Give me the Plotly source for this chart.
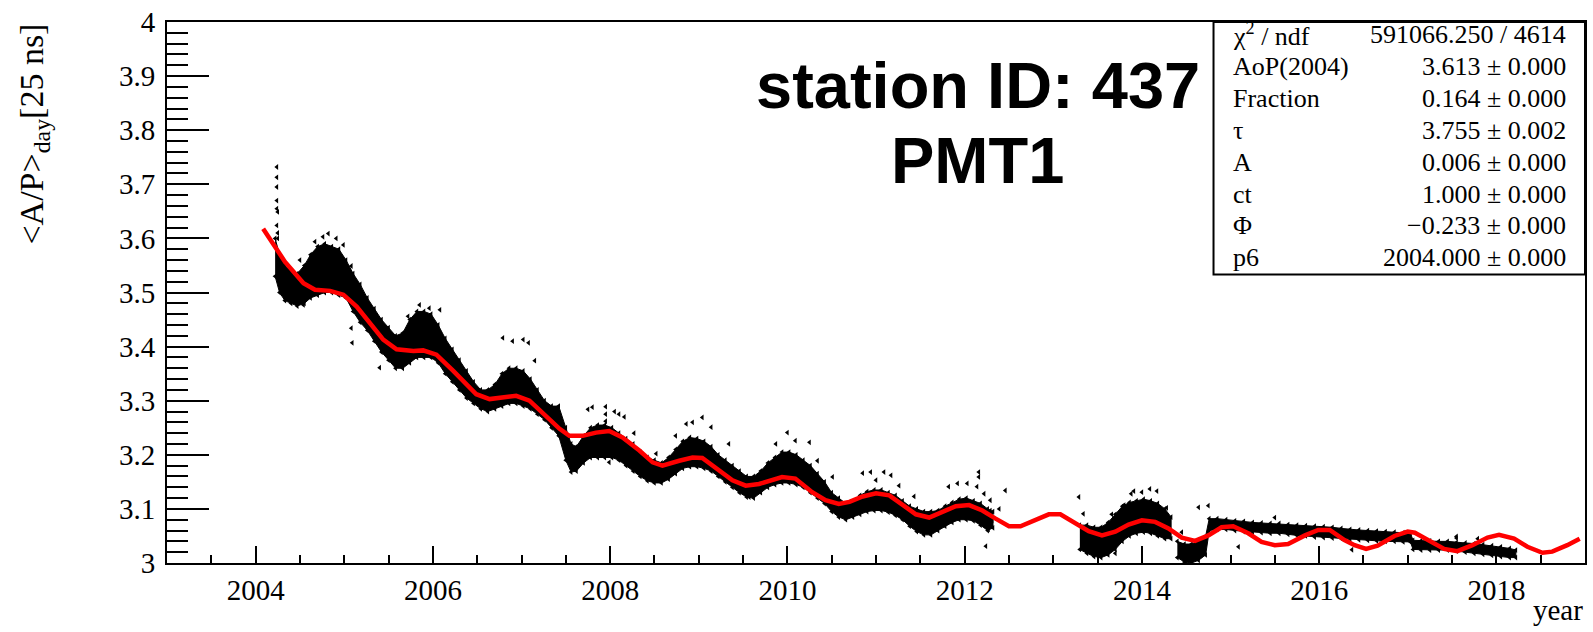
import plotly.graph_objects as go

# ---------------------------------------------------------------------------
# Daily <A/P> of station 437, PMT1: spread of the daily values (lower / upper
# edge of the point cloud) for the three stretches of data taking.
# ---------------------------------------------------------------------------
band1_t = [2004.22, 2004.27, 2004.33, 2004.40, 2004.47, 2004.55, 2004.62, 2004.70, 2004.78, 2004.86,
           2004.94, 2005.02, 2005.10, 2005.18, 2005.26, 2005.34, 2005.42, 2005.50, 2005.58, 2005.66,
           2005.74, 2005.82, 2005.90, 2005.98, 2006.06, 2006.14, 2006.22, 2006.30, 2006.38, 2006.46,
           2006.54, 2006.62, 2006.70, 2006.78, 2006.86, 2006.94, 2007.02, 2007.10, 2007.18, 2007.26,
           2007.34, 2007.42, 2007.50, 2007.56, 2007.62, 2007.70, 2007.78, 2007.86, 2007.94, 2008.02,
           2008.10, 2008.18, 2008.26, 2008.34, 2008.42, 2008.50, 2008.58, 2008.66, 2008.74, 2008.82,
           2008.90, 2008.98, 2009.06, 2009.14, 2009.22, 2009.30, 2009.38, 2009.46, 2009.54, 2009.62,
           2009.70, 2009.78, 2009.86, 2009.94, 2010.02, 2010.10, 2010.18, 2010.26, 2010.34, 2010.42,
           2010.50, 2010.58, 2010.66, 2010.74, 2010.82, 2010.90, 2010.98, 2011.06, 2011.14, 2011.22,
           2011.30, 2011.38, 2011.46, 2011.54, 2011.62, 2011.70, 2011.78, 2011.86, 2011.94, 2012.02,
           2012.10, 2012.18, 2012.26, 2012.32]
band1_lo = [3.530, 3.500, 3.485, 3.480, 3.475, 3.480, 3.490, 3.495, 3.500, 3.500,
            3.495, 3.490, 3.465, 3.445, 3.430, 3.410, 3.390, 3.375, 3.360, 3.360,
            3.370, 3.380, 3.380, 3.380, 3.370, 3.350, 3.335, 3.320, 3.305, 3.295,
            3.285, 3.280, 3.285, 3.290, 3.295, 3.295, 3.290, 3.285, 3.275, 3.265,
            3.250, 3.235, 3.190, 3.168, 3.170, 3.185, 3.195, 3.195, 3.195, 3.195,
            3.190, 3.180, 3.170, 3.160, 3.152, 3.148, 3.148, 3.155, 3.165, 3.175,
            3.178, 3.178, 3.175, 3.170, 3.160, 3.150, 3.140, 3.130, 3.122, 3.120,
            3.130, 3.140, 3.145, 3.148, 3.148, 3.145, 3.140, 3.130, 3.120, 3.110,
            3.095, 3.085, 3.080, 3.085, 3.090, 3.095, 3.097, 3.097, 3.094, 3.088,
            3.080, 3.068, 3.058, 3.052, 3.052, 3.060, 3.068, 3.075, 3.080, 3.080,
            3.078, 3.070, 3.060, 3.065]
band1_hi = [3.600, 3.570, 3.550, 3.540, 3.535, 3.550, 3.570, 3.585, 3.590, 3.585,
            3.580, 3.560, 3.535, 3.515, 3.490, 3.470, 3.450, 3.435, 3.420, 3.425,
            3.450, 3.465, 3.465, 3.460, 3.440, 3.415, 3.395, 3.375, 3.355, 3.335,
            3.320, 3.320, 3.330, 3.350, 3.360, 3.360, 3.355, 3.340, 3.320, 3.300,
            3.290, 3.290, 3.250, 3.220, 3.215, 3.235, 3.250, 3.255, 3.255, 3.250,
            3.240, 3.230, 3.220, 3.205, 3.195, 3.190, 3.185, 3.195, 3.210, 3.225,
            3.232, 3.230, 3.225, 3.215, 3.200, 3.190, 3.180, 3.170, 3.160, 3.160,
            3.170, 3.185, 3.195, 3.205, 3.205, 3.200, 3.190, 3.180, 3.165, 3.150,
            3.130, 3.120, 3.110, 3.115, 3.125, 3.132, 3.135, 3.135, 3.130, 3.125,
            3.115, 3.105, 3.100, 3.095, 3.095, 3.097, 3.105, 3.112, 3.118, 3.120,
            3.115, 3.110, 3.100, 3.095]

band2_t = [2013.30, 2013.38, 2013.46, 2013.54, 2013.62, 2013.70, 2013.78, 2013.86, 2013.94, 2014.02,
           2014.10, 2014.18, 2014.26, 2014.33]
band2_lo = [3.025, 3.018, 3.012, 3.010, 3.015, 3.025, 3.040, 3.050, 3.055, 3.057,
            3.055, 3.050, 3.045, 3.045]
band2_hi = [3.070, 3.070, 3.066, 3.066, 3.075, 3.090, 3.105, 3.112, 3.115, 3.118,
            3.115, 3.110, 3.100, 3.085]

band3_t = [2014.40, 2014.48, 2014.56, 2014.64, 2014.72, 2014.76, 2014.85, 2014.95, 2015.05, 2015.15,
           2015.25, 2015.35, 2015.45, 2015.55, 2015.65, 2015.75, 2015.85, 2015.95, 2016.05, 2016.15,
           2016.25, 2016.35, 2016.45, 2016.55, 2016.65, 2016.75, 2016.85, 2016.95, 2017.03, 2017.06,
           2017.15, 2017.25, 2017.35, 2017.45, 2017.55, 2017.65, 2017.75, 2017.85, 2017.95, 2018.05,
           2018.15, 2018.22]
band3_lo = [3.010, 3.002, 3.000, 3.005, 3.015, 3.060, 3.062, 3.062, 3.060, 3.058,
            3.057, 3.056, 3.055, 3.055, 3.053, 3.051, 3.050, 3.048, 3.047, 3.046,
            3.045, 3.044, 3.043, 3.042, 3.041, 3.040, 3.040, 3.039, 3.039, 3.025,
            3.024, 3.024, 3.024, 3.024, 3.022, 3.020, 3.018, 3.016, 3.014, 3.012,
            3.010, 3.010]
band3_hi = [3.040, 3.035, 3.035, 3.040, 3.050, 3.082, 3.082, 3.080, 3.078, 3.077,
            3.075, 3.074, 3.073, 3.073, 3.071, 3.070, 3.069, 3.068, 3.067, 3.066,
            3.064, 3.062, 3.061, 3.060, 3.059, 3.058, 3.057, 3.056, 3.055, 3.042,
            3.041, 3.041, 3.040, 3.040, 3.038, 3.037, 3.036, 3.034, 3.032, 3.030,
            3.027, 3.024]

# isolated daily values lying outside the bulk of the cloud
outlier_t = [2004.24, 2004.24, 2004.24, 2004.24, 2004.24, 2004.25, 2004.24, 2004.25, 2004.25,
             2004.50, 2004.54, 2004.67, 2004.76, 2004.82, 2004.91, 2004.99, 2005.08, 2005.08, 2005.09,
             2005.40, 2005.72, 2005.85, 2005.96, 2006.08, 2006.79, 2006.90, 2007.02, 2007.08, 2007.15,
             2007.75, 2007.80, 2007.95, 2007.95, 2007.95, 2008.05, 2008.10, 2008.16, 2008.27, 2007.99,
             2008.86, 2008.93, 2009.04, 2009.14, 2008.74, 2009.34, 2008.52, 2009.87, 2010.00, 2010.09,
             2010.25, 2010.34, 2010.51, 2009.57, 2010.85, 2010.94, 2011.09, 2011.17, 2011.26, 2011.00,
             2011.43, 2011.82, 2011.92, 2012.03, 2012.16, 2012.16, 2012.14, 2012.22, 2012.29, 2012.29,
             2012.31, 2012.27, 2012.24, 2012.46, 2012.39, 2010.75, 2013.29, 2013.34, 2013.51, 2013.88,
             2013.80, 2013.91, 2014.00, 2014.09, 2014.17, 2014.28, 2014.64, 2014.75, 2015.09, 2015.50,
             2014.45, 2013.66, 2013.70, 2016.37, 2017.55, 2017.55, 2017.79]
outlier_v = [3.732, 3.713, 3.695, 3.670, 3.655, 3.649, 3.624, 3.610, 3.600,
             3.560, 3.477, 3.594, 3.603, 3.609, 3.600, 3.588, 3.549, 3.434, 3.407,
             3.361, 3.456, 3.477, 3.471, 3.468, 3.416, 3.410, 3.413, 3.407, 3.374,
             3.284, 3.288, 3.289, 3.275, 3.262, 3.280, 3.275, 3.270, 3.240, 3.186,
             3.257, 3.260, 3.269, 3.251, 3.235, 3.220, 3.202, 3.220, 3.241, 3.226,
             3.223, 3.189, 3.159, 3.122, 3.166, 3.168, 3.168, 3.162, 3.143, 3.153,
             3.123, 3.141, 3.147, 3.147, 3.168, 3.159, 3.141, 3.128, 3.116, 3.097,
             3.079, 3.062, 3.031, 3.134, 3.100, 3.091, 3.122, 3.091, 3.015, 3.128,
             3.107, 3.133, 3.131, 3.137, 3.133, 3.102, 3.103, 3.106, 3.030, 3.084,
             3.057, 3.090, 3.018, 3.0245, 3.049, 3.046, 3.045]

# fitted model curve (sampled polyline)
fit_t = [2004.085, 2004.33, 2004.54, 2004.67, 2004.84, 2004.99, 2005.14, 2005.44, 2005.59, 2005.78,
         2005.89, 2006.04, 2006.23, 2006.49, 2006.64, 2006.94, 2007.09, 2007.32, 2007.43, 2007.54,
         2007.69, 2007.84, 2007.99, 2008.14, 2008.33, 2008.48, 2008.59, 2008.78, 2008.93, 2009.04,
         2009.19, 2009.38, 2009.53, 2009.68, 2009.94, 2010.09, 2010.28, 2010.43, 2010.58, 2010.70,
         2010.85, 2011.00, 2011.15, 2011.30, 2011.45, 2011.60, 2011.75, 2011.90, 2012.05, 2012.20,
         2012.35, 2012.50, 2012.63, 2012.80, 2012.95, 2013.08, 2013.25, 2013.40, 2013.55, 2013.70,
         2013.85, 2014.00, 2014.15, 2014.30, 2014.45, 2014.60, 2014.75, 2014.90, 2015.03, 2015.20,
         2015.35, 2015.50, 2015.65, 2015.84, 2015.99, 2016.12, 2016.29, 2016.40, 2016.53, 2016.66,
         2016.85, 2017.00, 2017.08, 2017.26, 2017.41, 2017.56, 2017.73, 2017.90, 2018.03, 2018.20,
         2018.35, 2018.52, 2018.63, 2018.80, 2018.94]
fit_v = [3.618, 3.557, 3.517, 3.505, 3.503, 3.496, 3.474, 3.413, 3.395, 3.392,
         3.393, 3.385, 3.355, 3.312, 3.303, 3.309, 3.300, 3.263, 3.248, 3.235,
         3.235, 3.241, 3.244, 3.232, 3.208, 3.186, 3.180, 3.189, 3.195, 3.194,
         3.177, 3.153, 3.143, 3.146, 3.159, 3.156, 3.131, 3.116, 3.109, 3.113,
         3.123, 3.129, 3.125, 3.107, 3.090, 3.084, 3.094, 3.105, 3.107, 3.097,
         3.082, 3.068, 3.068, 3.080, 3.090, 3.090, 3.074, 3.059, 3.051, 3.058,
         3.071, 3.079, 3.076, 3.064, 3.047, 3.041, 3.051, 3.066, 3.068, 3.055,
         3.039, 3.033, 3.035, 3.051, 3.061, 3.061, 3.042, 3.033, 3.026, 3.032,
         3.050, 3.058, 3.056, 3.040, 3.026, 3.022, 3.033, 3.047, 3.052, 3.045,
         3.030, 3.019, 3.021, 3.033, 3.045]

# fit statistics box
stat_names = ["χ<sup>2</sup> / ndf", "AoP(2004)", "Fraction", "τ", "A", "ct", "Φ", "p6"]
stat_values = ["591066.250 / 4614", "3.613 ± 0.000", "0.164 ± 0.000", "3.755 ± 0.002",
               "0.006 ± 0.000", "1.000 ± 0.000", "−0.233 ± 0.000", "2004.000 ± 0.000"]

title_lines = ["station ID: 437", "PMT1"]
y_title = "&lt;A/P&gt;<sub>day</sub>[25 ns]"
x_title = "year"

X_RANGE = [2003, 2019]
Y_RANGE = [3, 4]

SERIF = "Liberation Serif"
SANS = "Liberation Sans"

# figure geometry (pixels)
W, H = 1593, 632
ML, MR, MT, MB = 167, 6, 19, 69
PW, PH = W - ML - MR, H - MT - MB


def px_x(x):
    return (x - ML) / PW


def px_y(y):
    return (H - MB - y) / PH


def px_to_year(x):
    return X_RANGE[0] + (x - ML) / PW * (X_RANGE[1] - X_RANGE[0])


def px_to_val(y):
    return Y_RANGE[1] - (y - MT) / PH * (Y_RANGE[1] - Y_RANGE[0])


fig = go.Figure()

for bt, blo, bhi in [(band1_t, band1_lo, band1_hi),
                     (band2_t, band2_lo, band2_hi),
                     (band3_t, band3_lo, band3_hi)]:
    fig.add_trace(go.Scatter(
        x=bt + bt[::-1], y=bhi + blo[::-1], mode="lines", fill="toself",
        fillcolor="black", line=dict(color="black", width=1),
        hoverinfo="skip", showlegend=False))
    fig.add_trace(go.Scatter(
        x=bt + bt, y=blo + bhi, mode="markers",
        marker=dict(symbol="triangle-left", size=5, color="black"),
        hoverinfo="skip", showlegend=False))

fig.add_trace(go.Scatter(
    x=outlier_t, y=outlier_v, mode="markers",
    marker=dict(symbol="triangle-left", size=5, color="black"),
    showlegend=False))

fig.add_trace(go.Scatter(
    x=fit_t, y=fit_v, mode="lines",
    line=dict(color="#ff0000", width=4.5),
    showlegend=False))

axis_common = dict(
    showline=True, linecolor="black", linewidth=2, mirror=True,
    ticks="inside", tickcolor="black", tickwidth=2,
    showgrid=False, zeroline=False,
    tickfont=dict(family=SERIF, size=29, color="black"),
)

fig.update_xaxes(range=X_RANGE, tick0=2004, dtick=2, ticklen=17,
                 minor=dict(dtick=0.5, tick0=2004, ticks="inside", ticklen=8,
                            tickwidth=2, tickcolor="black", showgrid=False),
                 **axis_common)
fig.update_yaxes(range=Y_RANGE, tick0=3, dtick=0.1, ticklen=42,
                 minor=dict(dtick=0.02, tick0=3, ticks="inside", ticklen=21,
                            tickwidth=2, tickcolor="black", showgrid=False),
                 ticklabelstandoff=4,
                 **axis_common)

annotations = []
# axis titles
annotations.append(dict(text=y_title, textangle=-90, showarrow=False,
                        xref="paper", yref="paper", x=px_x(34), y=px_y(132),
                        xanchor="center", yanchor="middle",
                        font=dict(family=SERIF, size=34, color="black")))
annotations.append(dict(text=x_title, showarrow=False,
                        xref="paper", yref="paper", x=1.0, y=px_y(610),
                        xanchor="right", yanchor="middle",
                        font=dict(family=SERIF, size=29, color="black")))
# station label
for line, cy in zip(title_lines, [83, 158]):
    annotations.append(dict(text=f"<b>{line}</b>", showarrow=False,
                            xref="paper", yref="paper", x=px_x(979), y=px_y(cy),
                            xanchor="center", yanchor="middle",
                            font=dict(family=SANS, size=65, color="black")))
# statistics box content (placed in data coordinates of the frame)
for i, (name, val) in enumerate(zip(stat_names, stat_values)):
    cy = 32 + 32.0 * i
    annotations.append(dict(text=name, showarrow=False,
                            xref="x", yref="y", x=px_to_year(1232), y=px_to_val(cy),
                            xanchor="left", yanchor="middle",
                            font=dict(family=SERIF, size=26, color="black")))
    annotations.append(dict(text=val, showarrow=False,
                            xref="x", yref="y", x=px_to_year(1570), y=px_to_val(cy),
                            xanchor="right", yanchor="middle",
                            font=dict(family=SERIF, size=26, color="black")))

shapes = [dict(type="rect", xref="x", yref="y",
               x0=px_to_year(1215), x1=X_RANGE[1], y0=px_to_val(273), y1=Y_RANGE[1],
               line=dict(color="black", width=2), fillcolor="white", layer="above")]

fig.update_layout(
    width=W, height=H,
    margin=dict(l=ML, r=MR, t=MT, b=MB, pad=0),
    paper_bgcolor="white", plot_bgcolor="white",
    showlegend=False,
    annotations=annotations,
    shapes=shapes,
)

fig.write_html("out.html")
